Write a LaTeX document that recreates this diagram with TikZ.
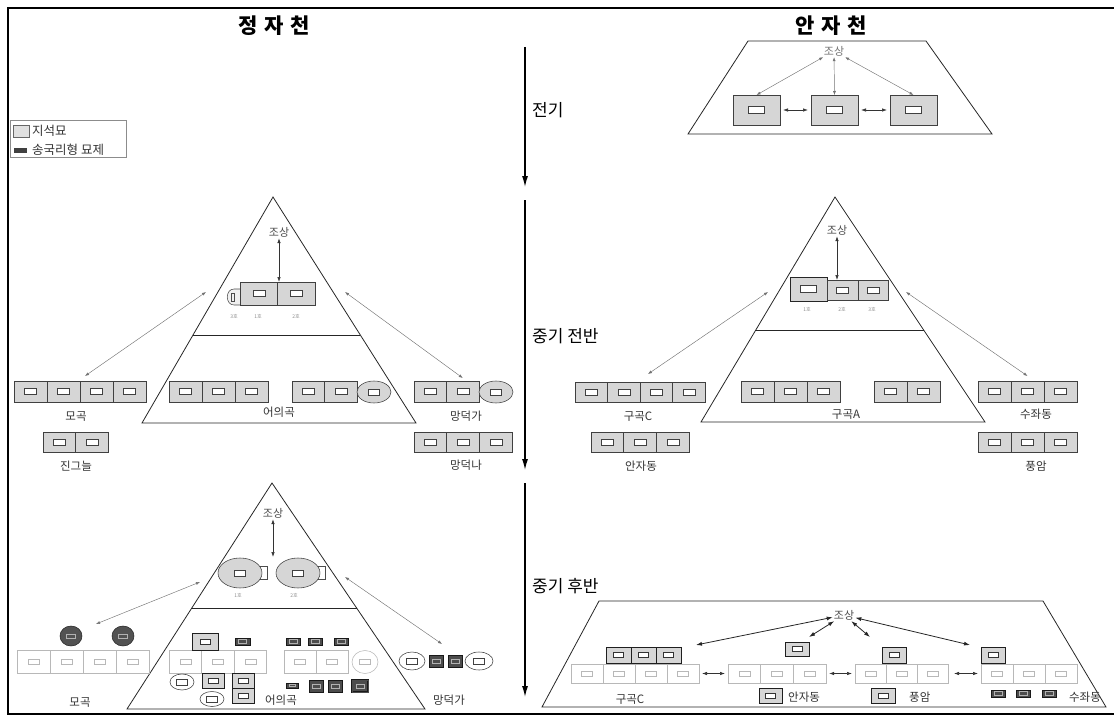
\documentclass[tikz,border=0pt]{standalone}
\usepackage{fontspec}
\newfontfamily\kr{Noto Sans CJK KR}
\usetikzlibrary{arrows.meta,shapes.geometric}
\tikzset{
 inr/.style n args={4}{path picture={\draw[draw=#3,fill=#4,line width=0.45pt] ([xshift=-#1pt,yshift=-#2pt]path picture bounding box.center) rectangle ([xshift=#1pt,yshift=#2pt]path picture bounding box.center);}},
 gb/.style={draw=black!75, fill=black!16, line width=0.55pt, inner sep=0pt, outer sep=0pt, anchor=north west, inr={6}{3}{black!75}{white}},
 gbL/.style={gb, inr={8}{3.5}{black!75}{white}},
 fb/.style={draw=black!28, fill=white, line width=0.55pt, inner sep=0pt, outer sep=0pt, anchor=north west, inr={5.5}{2.5}{black!28}{white}},
 db/.style={draw=black!88, fill=black!16, line width=0.9pt, inner sep=0pt, outer sep=0pt, anchor=north west, inr={5}{2.5}{black!80}{white}},
 dk/.style={draw=black!90, fill=black!70, line width=0.5pt, inner sep=0pt, outer sep=0pt, anchor=north west, inr={4}{2}{black!30}{black!70}},
 ell/.style={ellipse, draw=black!75, fill=black!16, line width=0.55pt, inner sep=0pt, inr={5.5}{2.8}{black!75}{white}},
 fell/.style={ellipse, draw=black!28, fill=white, line width=0.55pt, inner sep=0pt, inr={5.5}{2.5}{black!28}{white}},
 dcir/.style={ellipse, draw=black!85, fill=black!68, line width=0.55pt, inner sep=0pt, inr={4.5}{2.2}{black!30}{black!68}},
 sa/.style={{Latex[length=4pt,width=3pt]}-{Latex[length=4pt,width=3pt]}, draw=black!55, line width=0.45pt},
 va/.style={{Latex[length=5pt,width=3.5pt]}-{Latex[length=5pt,width=3.5pt]}, draw=black!80, line width=0.7pt},
 ba/.style={{Latex[length=6pt,width=4pt]}-{Latex[length=6pt,width=4pt]}, draw=black!85, line width=0.8pt},
 tl/.style={-{Latex[length=11pt,width=6pt]}, line width=1.3pt},
 outl/.style={draw=black!85, line width=0.8pt},
 title/.style={font=\kr\bfseries\fontsize{21}{24}\selectfont},
 phase/.style={font=\kr\fontsize{17}{20}\selectfont, anchor=west, inner sep=1pt},
 lab/.style={font=\kr\fontsize{11.5}{13}\selectfont, text=black!80, inner sep=1pt},
 leglab/.style={font=\kr\fontsize{12.5}{14}\selectfont, text=black!80, inner sep=1pt},
 anc/.style={font=\kr\fontsize{11}{13}\selectfont, text=black!70, inner sep=1pt},
 tiny/.style={font=\kr\fontsize{5}{6}\selectfont, text=black!45, inner sep=0pt},
}
\newcommand\boxrow[7]{\foreach \i in {1,...,#4}{\node[#7, minimum width=#5pt, minimum height=#6pt] (#1-\i) at ({#2+(\i-1)*#5},#3) {};}}
\begin{document}
\begin{tikzpicture}[x=1pt,y=-1pt]
\useasboundingbox (0,0) rectangle (1114,717);
% frame
\draw[line width=1.6pt] (1114,8) -- (8,8) -- (8,714) -- (1114,714);
% titles
\node[title] (tL) at (274,26) {정\,\,자\,\,천};
\node[title] (tR) at (831,26) {안\,\,자\,\,천};
% timeline
\coordinate (a1s) at (525,47); \coordinate (a1e) at (525,187);
\coordinate (a2s) at (525,200); \coordinate (a2e) at (525,470);
\coordinate (a3s) at (525,483); \coordinate (a3e) at (525,697);
\draw[tl] (a1s) -- (a1e);
\draw[tl] (a2s) -- (a2e);
\draw[tl] (a3s) -- (a3e);
\node[phase] (p1) at (531,110) {전기};
\node[phase] (p2) at (531,336) {중기 전반};
\node[phase] (p3) at (531,586) {중기 후반};
% legend
\node[draw=black!45, line width=0.5pt, minimum width=116pt, minimum height=37pt, anchor=north west, inner sep=0pt] (leg) at (10,120) {};
\node[draw=black!60, fill=black!12, minimum width=16pt, minimum height=12pt, anchor=north west, inner sep=0pt] (lg1) at (13,125) {};
\node[leglab, anchor=west] (lt1) at (31,131) {지석묘};
\node[fill=black!75, minimum width=13pt, minimum height=5pt, anchor=north west, inner sep=0pt] (lg2) at (14,148) {};
\node[leglab, anchor=west] (lt2) at (31,150) {송국리형 묘제};

% ===== top right trapezoid (전기, 안자천)
\draw[outl] (688,134) -- (748,41) -- (926,41) -- (992,134) -- cycle;
\node[anc, text=black!55] (ta) at (834,51) {조상};
\node[gbL, minimum width=47pt, minimum height=30pt] (tb1) at (733,95) {};
\node[gbL, minimum width=47pt, minimum height=30pt] (tb2) at (811,95) {};
\node[gbL, minimum width=47pt, minimum height=30pt] (tb3) at (890,95) {};
\draw[sa] (ta) -- (tb1.north);
\draw[sa] (ta) -- (tb2.north);
\draw[sa] (ta) -- (tb3.north);
\draw[va, shorten <=3pt, shorten >=3pt] (tb1) -- (tb2);
\draw[va, shorten <=3pt, shorten >=3pt] (tb2) -- (tb3);

% ===== middle left pyramid (중기 전반, 정자천)
\draw[outl] (273,197) -- (142,423) -- (416,423) -- cycle;
\draw[outl] (193,335) -- (360,335);
\node[anc] (mla) at (279,232) {조상};
\draw[black!70, fill=black!6, line width=0.55pt] (240,289) -- (234,289) .. controls (225,289) and (225,305) .. (234,305) -- (240,305);
\draw[black!70, line width=0.45pt] (231,293) rectangle (234,301);
\boxrow{mlt}{240}{282}{2}{37.5}{23}{gb}
\draw[va] (mla) -- (mla |- mlt-1.north east);
\node[tiny] (ml1) at (234,316) {3호};
\node[tiny] (ml2) at (258,316) {1호};
\node[tiny] (ml3) at (296,316) {2호};
\boxrow{mo}{14}{381}{4}{33}{21}{gb}
\node[lab] (mol) at (76,416) {모곡};
\boxrow{jg}{43}{432}{2}{32.5}{20}{gb}
\node[lab] (jgl) at (76,466) {진그늘};
\boxrow{yu}{169}{381}{3}{33}{21}{gb}
\boxrow{yv}{292}{381}{2}{32.5}{21}{gb}
\node[ell, minimum width=34pt, minimum height=22pt] (yve) at (374,392) {};
\node[lab] (yul) at (279,412) {어의곡};
\boxrow{md}{414}{381}{2}{32.5}{21}{gb}
\node[ell, minimum width=34pt, minimum height=22pt] (mde) at (496,392) {};
\node[lab] (mdl) at (466,416) {망덕가};
\boxrow{mn}{414}{432}{3}{32.7}{20}{gb}
\node[lab] (mnl) at (466,465) {망덕나};
\coordinate (mlL) at (206,292);
\coordinate (mlR) at (345,292);
\draw[sa] ([xshift=5pt,yshift=5pt]mo-3.north west) -- (mlL);
\draw[sa] (mlR) -- ([yshift=3pt]md-2.north);

% ===== middle right pyramid (중기 전반, 안자천)
\draw[outl] (835,197) -- (701,422) -- (985,422) -- cycle;
\draw[outl] (756,330) -- (924,330);
\node[anc] (mra) at (837,230) {조상};
\node[gbL, draw=black!85, line width=0.8pt, minimum width=37pt, minimum height=24pt] (mrt1) at (790,277) {};
\node[gb, minimum width=31pt, minimum height=20pt] (mrt2) at (827,280) {};
\node[gb, minimum width=30pt, minimum height=20pt] (mrt3) at (858,280) {};
\draw[va] (mra) -- (mra |- mrt2.north);
\node[tiny] (mr1) at (807,309) {1호};
\node[tiny] (mr2) at (842,309) {2호};
\node[tiny] (mr3) at (872,309) {3호};
\boxrow{gc}{575}{382}{4}{32.5}{20}{gb}
\node[lab] (gcl) at (638,416) {구곡C};
\boxrow{ad}{591}{432}{3}{32.7}{20}{gb}
\node[lab] (adl) at (641,466) {안자동};
\boxrow{ga}{741}{381}{3}{33}{21}{gb}
\boxrow{gaa}{874}{381}{2}{33}{21}{gb}
\node[lab] (gal) at (846,414) {구곡A};
\boxrow{sj}{978}{381}{3}{33}{21}{gb}
\node[lab] (sjl) at (1036,414) {수좌동};
\boxrow{pa}{978}{432}{3}{33}{20}{gb}
\node[lab] (pal) at (1036,466) {풍암};
\coordinate (mrL) at (768,292);
\coordinate (mrR) at (906,292);
\draw[sa] ([xshift=8pt,yshift=8pt]gc-3.north west) -- (mrL);
\draw[sa] (mrR) -- ([yshift=5pt]sj-2.north);

% ===== bottom left pyramid (중기 후반, 정자천)
\draw[outl] (272,483) -- (127,709) -- (425,709) -- cycle;
\draw[outl] (192,608) -- (357,608);
\node[anc] (bla) at (273,513) {조상};
\draw[black!70, fill=white, line width=0.55pt] (258,566) rectangle (267,579);
\node[ell, minimum width=44pt, minimum height=30pt] (be1) at (240,573) {};
\draw[black!70, fill=white, line width=0.55pt] (316,566) rectangle (325,579);
\node[ell, minimum width=44pt, minimum height=30pt] (be2) at (298,573) {};
\coordinate (blv) at (273,557);
\draw[va] (bla) -- (blv);
\node[tiny] (bl1) at (238,595) {1호};
\node[tiny] (bl2) at (294,595) {2호};
% 모곡
\node[dcir, minimum width=22pt, minimum height=20pt] (mc1) at (71,636) {};
\node[dcir, minimum width=22pt, minimum height=20pt] (mc2) at (123,636) {};
\boxrow{mf}{17}{650}{4}{33}{23}{fb}
\node[lab] (mfl) at (80,702) {모곡};
% 여의곡 inner
\boxrow{yf}{169}{650}{3}{32.5}{23}{fb}
\node[db, minimum width=26pt, minimum height=17pt] (yd1) at (192,633) {};
\node[dk, minimum width=15pt, minimum height=7pt] (yk1) at (235,638) {};
\node[ell, fill=white, minimum width=24pt, minimum height=16pt] (ye1) at (182,682) {};
\node[db, minimum width=22pt, minimum height=15pt] (yd2) at (202,673) {};
\node[db, minimum width=22pt, minimum height=15pt] (yd3) at (232,673) {};
\node[db, minimum width=22pt, minimum height=15pt] (yd4) at (232,688) {};
\node[ell, fill=white, minimum width=24pt, minimum height=15pt] (ye2) at (212,699) {};
\node[lab] (yfl) at (281,700) {어의곡};
\node[dk, minimum width=14pt, minimum height=7pt] (yk2) at (286,638) {};
\node[dk, minimum width=14pt, minimum height=7pt] (yk3) at (308,638) {};
\node[dk, minimum width=14pt, minimum height=7pt] (yk4) at (334,638) {};
\boxrow{yg}{284}{650}{2}{32}{23}{fb}
\node[fell, minimum width=26pt, minimum height=23pt] (yge) at (365,662) {};
\node[dk, minimum width=12pt, minimum height=5pt, inr={3}{1}{black!30}{black!70}] (yk5) at (286,683) {};
\node[dk, minimum width=14pt, minimum height=12pt] (yk6) at (309,680) {};
\node[dk, minimum width=14pt, minimum height=12pt] (yk7) at (328,680) {};
\node[dk, minimum width=16pt, minimum height=12pt, double=black!70, double distance=0.8pt] (yk8) at (352,680) {};
% 망덕가
\node[ell, fill=white, minimum width=26pt, minimum height=18pt] (me1) at (412,661) {};
\node[dk, minimum width=14pt, minimum height=12pt] (mk1) at (429,655) {};
\node[dk, minimum width=14pt, minimum height=12pt] (mk2) at (448,655) {};
\node[ell, fill=white, minimum width=28pt, minimum height=18pt] (me2) at (479,661) {};
\node[lab] (mkl) at (449,700) {망덕가};
\coordinate (blLa) at (96,624); \coordinate (blLb) at (200,582);
\coordinate (blRa) at (442,644); \coordinate (blRb) at (345,577);
\draw[sa] (blLa) -- (blLb);
\draw[sa] (blRb) -- (blRa);

% ===== bottom right trapezoid (중기 후반, 안자천)
\draw[outl] (599,601) -- (1043,601) -- (1106,707) -- (542,707) -- cycle;
\node[anc] (bra) at (844,615) {조상};
\boxrow{bc}{606}{647}{3}{25}{16}{db}
\boxrow{bcf}{571}{664}{4}{32}{19}{fb}
\node[lab] (bcl) at (630,699) {구곡C};
\boxrow{baf}{728}{664}{3}{32.7}{19}{fb}
\node[db, minimum width=24pt, minimum height=14pt] (ba1) at (785,642) {};
\node[db, minimum width=23pt, minimum height=15pt] (ba2) at (759,688) {};
\node[lab, anchor=west] (bal) at (787,697) {안자동};
\boxrow{bpf}{855}{664}{3}{31}{19}{fb}
\node[db, minimum width=24pt, minimum height=16pt] (bp1) at (882,647) {};
\node[db, minimum width=24pt, minimum height=15pt] (bp2) at (871,688) {};
\node[lab, anchor=west] (bpl) at (908,697) {풍암};
\boxrow{bsf}{981}{664}{3}{32}{19}{fb}
\node[db, minimum width=24pt, minimum height=16pt] (bs1) at (981,647) {};
\node[dk, minimum width=14pt, minimum height=7pt] (bk1) at (991,690) {};
\node[dk, minimum width=14pt, minimum height=7pt] (bk2) at (1016,690) {};
\node[dk, minimum width=14pt, minimum height=7pt] (bk3) at (1042,690) {};
\node[lab] (bsl) at (1085,697) {수좌동};
\draw[va, shorten <=3pt, shorten >=3pt] (bcf-4.east) -- (baf-1.west);
\draw[va, shorten <=3pt, shorten >=3pt] (baf-3.east) -- (bpf-1.west);
\draw[va, shorten <=6pt, shorten >=3pt] (bpf-3.east) -- (bsf-1.west);
\coordinate (br1) at (696,645);
\coordinate (br2) at (809,637);
\coordinate (br3) at (870,637);
\coordinate (br4) at (970,645);
\draw[ba] (bra) -- (br1);
\draw[ba] (bra) -- (br2);
\draw[ba] (bra) -- (br3);
\draw[ba] (bra) -- (br4);
\end{tikzpicture}
\end{document}
